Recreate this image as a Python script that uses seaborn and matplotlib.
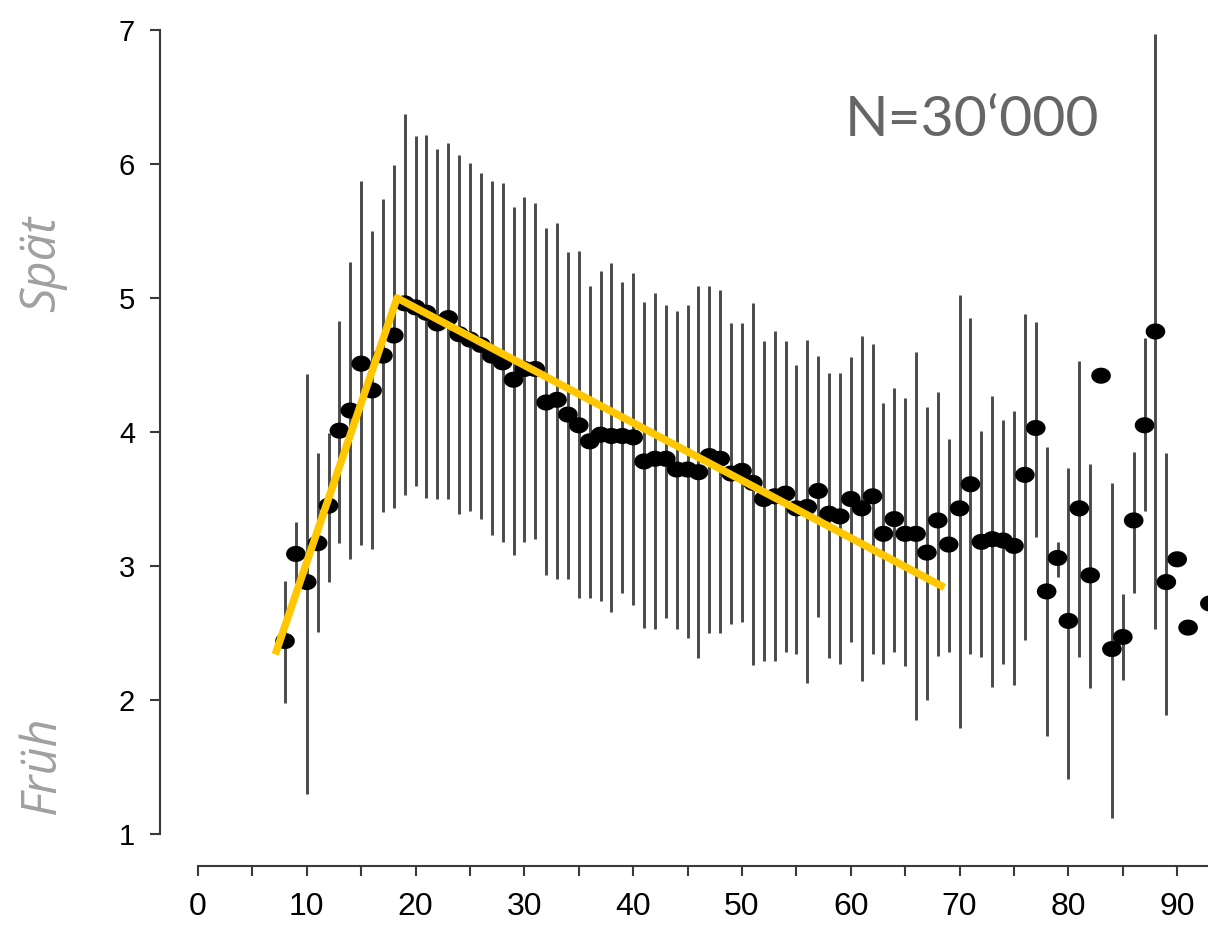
import numpy as np
import pandas as pd
import matplotlib
matplotlib.use("Agg")
import matplotlib.pyplot as plt
from matplotlib.path import Path
import seaborn as sns

# ---- data ----
ages = [8, 9, 10, 11, 12, 13, 14, 15, 16, 17, 18, 19, 20, 21, 22, 23, 24, 25, 26, 27,
        28, 29, 30, 31, 32, 33, 34, 35, 36, 37, 38, 39, 40, 41, 42, 43, 44, 45, 46, 47,
        48, 49, 50, 51, 52, 53, 54, 55, 56, 57, 58, 59, 60, 61, 62, 63, 64, 65, 66, 67,
        68, 69, 70, 71, 72, 73, 74, 75, 76, 77, 78, 79, 80, 81, 82, 83, 84, 85, 86, 87,
        88, 89, 90, 91, 93]
means = [2.44, 3.09, 2.88, 3.17, 3.45, 4.01, 4.16, 4.51, 4.31, 4.57, 4.72, 4.96, 4.93, 4.89, 4.81, 4.85, 4.73, 4.69, 4.65, 4.57,
         4.52, 4.39, 4.47, 4.47, 4.22, 4.24, 4.13, 4.05, 3.93, 3.98, 3.97, 3.97, 3.96, 3.78, 3.80, 3.80, 3.72, 3.72, 3.70, 3.82,
         3.80, 3.69, 3.71, 3.62, 3.50, 3.52, 3.54, 3.43, 3.44, 3.56, 3.39, 3.37, 3.50, 3.43, 3.52, 3.24, 3.35, 3.24, 3.24, 3.10,
         3.34, 3.16, 3.43, 3.61, 3.18, 3.20, 3.19, 3.15, 3.68, 4.03, 2.81, 3.06, 2.59, 3.43, 2.93, 4.42, 2.38, 2.47, 3.34, 4.05,
         4.75, 2.88, 3.05, 2.54, 2.72]
lower = [1.98, 2.87, 1.30, 2.51, 2.88, 3.17, 3.05, 3.16, 3.13, 3.40, 3.43, 3.53, 3.60, 3.51, 3.50, 3.50, 3.39, 3.41, 3.35, 3.23,
         3.18, 3.08, 3.18, 3.20, 2.93, 2.90, 2.90, 2.76, 2.76, 2.74, 2.66, 2.80, 2.71, 2.54, 2.53, 2.61, 2.53, 2.46, 2.31, 2.50,
         2.50, 2.57, 2.58, 2.26, 2.29, 2.29, 2.36, 2.34, 2.13, 2.62, 2.31, 2.27, 2.43, 2.14, 2.34, 2.27, 2.36, 2.25, 1.85, 2.00,
         2.33, 2.36, 1.79, 2.34, 2.32, 2.10, 2.27, 2.11, 2.45, 3.22, 1.73, 2.92, 1.41, 2.32, 2.09, np.nan, 1.12, 2.15, 2.80, 3.41,
         2.53, 1.89, np.nan, np.nan, np.nan]
upper = [2.89, 3.33, 4.43, 3.84, 3.99, 4.83, 5.27, 5.87, 5.50, 5.74, 5.99, 6.37, 6.21, 6.22, 6.11, 6.16, 6.07, 6.01, 5.93, 5.87,
         5.86, 5.68, 5.75, 5.71, 5.52, 5.56, 5.34, 5.35, 5.09, 5.20, 5.26, 5.12, 5.19, 4.97, 5.04, 4.95, 4.90, 4.95, 5.09, 5.09,
         5.06, 4.81, 4.81, 4.96, 4.68, 4.75, 4.68, 4.50, 4.69, 4.57, 4.44, 4.44, 4.56, 4.72, 4.66, 4.22, 4.33, 4.25, 4.60, 4.19,
         4.30, 3.95, 5.02, 4.85, 4.01, 4.27, 4.09, 4.16, 4.88, 4.82, 3.89, 3.18, 3.73, 4.53, 3.76, np.nan, 3.62, 2.79, 3.85, 4.70,
         6.97, 3.84, np.nan, np.nan, np.nan]

trend_x = [7.1, 18.3, 68.6]
trend_y = [2.34, 5.00, 2.84]

x_ticks = [0, 10, 20, 30, 40, 50, 60, 70, 80, 90]
y_ticks = [1, 2, 3, 4, 5, 6, 7]
n_label = "N=30\u2018000"
late_label = "Spät"
early_label = "Früh"

df = pd.DataFrame({"age": ages, "mean": means, "lo": lower, "hi": upper})

# ---- styling ----
sns.set_style("ticks")
plt.rcParams["font.family"] = ["Liberation Sans", "DejaVu Sans"]

W, H = 1208, 927
fig = plt.figure(figsize=(W / 100, H / 100), dpi=100)
fig.patch.set_facecolor("white")

# axes geometry (pixels in the reference)
px_left, px_right = 160, 1208
py_top, py_bottom = 3.2, 866
ax = fig.add_axes([px_left / W, (H - py_bottom) / H,
                   (px_right - px_left) / W, (py_bottom - py_top) / H])
ax.set_facecolor("white")

# error bars
ax.vlines(df["age"], df["lo"], df["hi"], color="#4a4a4a", lw=2.1, zorder=2)

# elliptical dot marker
t = np.linspace(0, 2 * np.pi, 40)
ell = Path(np.column_stack([np.cos(t), 0.82 * np.sin(t)]))
sns.scatterplot(data=df, x="age", y="mean", ax=ax, color="black", marker=ell,
                s=200, edgecolor="none", linewidth=0, zorder=3, legend=False)

# trend line
sns.lineplot(x=trend_x, y=trend_y, ax=ax, color="#FFC700", lw=5.4, zorder=4,
             solid_capstyle="butt")

ax.set_xlim(-3.49, 92.83)
ax.set_ylim(0.761, 7.2)

for s in ["top", "right"]:
    ax.spines[s].set_visible(False)
ax.spines["left"].set_bounds(1, 7)
ax.spines["bottom"].set_bounds(0, 92.83)
for s in ["left", "bottom"]:
    ax.spines[s].set_linewidth(1.5)
    ax.spines[s].set_color("#3a3a3a")

minor_pos = np.arange(0, 95, 5)
ax.set_xticks(minor_pos)
ax.set_xticklabels([str(v) if v in x_ticks else "" for v in minor_pos])
ax.set_yticks(y_ticks)
ax.set_yticklabels([str(v) for v in y_ticks])
ax.tick_params(axis="x", direction="out", length=7, width=1.5, color="#3a3a3a",
               labelsize=23, pad=12, labelcolor="black")
ax.tick_params(axis="y", direction="out", length=7, width=1.5, color="#3a3a3a",
               labelsize=21, pad=11, labelcolor="black")

ax.set_xlabel("")
ax.set_ylabel("")

# annotations
fig.text(972 / W, 1 - 120 / H, n_label, ha="center", va="center",
         fontsize=41, color="#666666", fontweight="normal", family=["Lato", "DejaVu Sans"])
fig.text(42 / W, 1 - 264 / H, late_label, rotation=90, ha="center", va="center",
         fontsize=35, color="#a0a0a0", style="italic", fontweight="normal",
         family=["Open Sans", "DejaVu Sans"])
fig.text(42 / W, 1 - 765 / H, early_label, rotation=90, ha="center", va="center",
         fontsize=35, color="#a0a0a0", style="italic", fontweight="normal",
         family=["Open Sans", "DejaVu Sans"])

fig.savefig("out.png", dpi=100, facecolor="white")
